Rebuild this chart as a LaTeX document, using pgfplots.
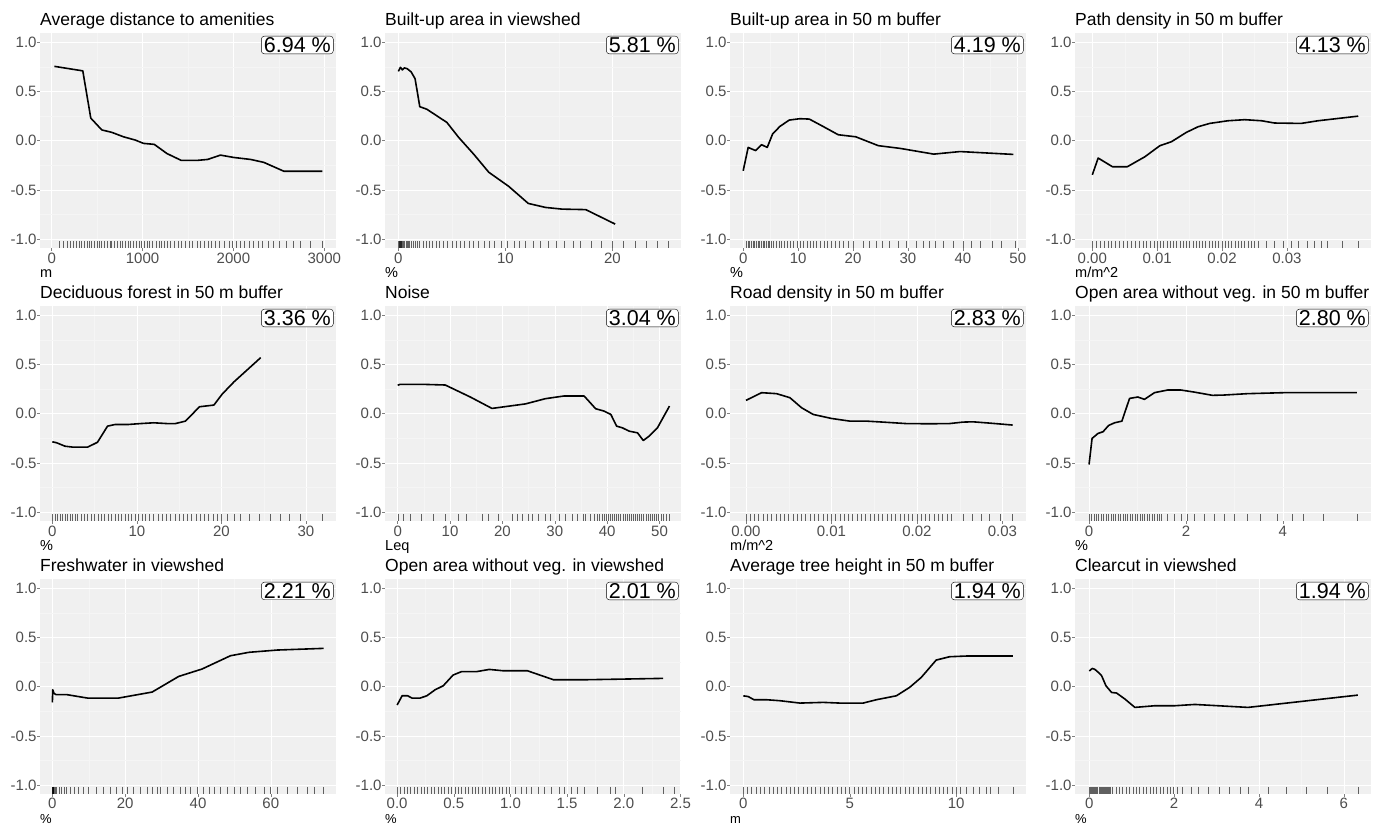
\documentclass[border=0pt]{standalone}
\usepackage{pgfplots}
\pgfplotsset{compat=1.18}
\usepackage{fontspec}
\setmainfont{Liberation Sans}
\definecolor{panelbg}{HTML}{F0F0F0}
\definecolor{minorgrid}{HTML}{F5F5F5}
\definecolor{tickgray}{HTML}{4D4D4D}
\tikzset{pct/.style={draw=black, fill=white, rounded corners=3pt, anchor=north east, inner xsep=2.5pt, inner ysep=1.2pt, xshift=-2.5pt, yshift=-3pt, font=\fontsize{21.5}{25}\selectfont}}
\pgfplotsset{
 panel/.style={
  scale only axis, width=296pt, height=215pt,
  axis background/.style={fill=panelbg},
  axis line style={draw=none},
  ymin=-1.09, ymax=1.095,
  ytick={-1,-0.5,0,0.5,1},
  scaled ticks=false,
  minor x tick num=1, minor y tick num=1,
  xmajorgrids, ymajorgrids, xminorgrids, yminorgrids,
  major grid style={white, line width=0.6pt},
  minor grid style={minorgrid, line width=0.3pt},
  tick align=outside, tick pos=left,
  major tick length=2.75pt, minor tick length=0pt,
  major tick style={gray, line width=0.5pt},
  /pgf/number format/assume math mode=true,
  /pgf/number format/1000 sep={},
  ticklabel style={font=\fontsize{15}{17}\selectfont, text=tickgray},
  yticklabel style={/pgf/number format/.cd, fixed, fixed zerofill, precision=1, /tikz/.cd, anchor=east, inner sep=0pt, xshift=-0.5pt},
  xticklabel style={anchor=base, inner sep=0pt, yshift=-12.5pt},
  every axis title shift=0pt,
  title style={at={(axis description cs:0,1)}, anchor=base west, yshift=7pt, inner sep=0pt, font=\fontsize{17.5}{20}\selectfont},
  xlabel style={at={(axis description cs:0,0)}, anchor=base west, yshift=-30pt, inner sep=0pt, font=\fontsize{14.5}{16}\selectfont},
  clip=false,
 },
 lastrow/.style={xlabel style={yshift=0.5pt, font=\fontsize{13}{15}\selectfont}, xticklabel style={yshift=1pt}},
 rug/.style={only marks, mark=|, mark size=3.5pt, mark options={draw=black, draw opacity=0.6, line width=0.7pt}},
 pdp/.style={black, line width=1.6pt, line join=round},
 fix2/.style={xticklabel style={/pgf/number format/.cd, fixed, fixed zerofill, precision=2, /tikz/.cd}},
 fix1/.style={xticklabel style={/pgf/number format/.cd, fixed, fixed zerofill, precision=1, /tikz/.cd}},
}
\begin{document}
\begin{tikzpicture}
\useasboundingbox (0pt,0pt) rectangle (1389pt,824pt);
% ---------- Row 1
\begin{axis}[panel, at={(40pt,576pt)}, anchor=south west, title={Average distance to amenities}, xlabel={m},
  xmin=-129, xmax=3129, xtick={0,1000,2000,3000}]
\addplot[rug] table[row sep=\\, y expr=-1.053]{x\\85\\130\\170\\200\\240\\270\\300\\330\\360\\390\\410\\440\\470\\500\\520\\550\\580\\610\\640\\660\\690\\720\\750\\780\\810\\840\\870\\900\\930\\960\\990\\1020\\1050\\1080\\1110\\1150\\1180\\1210\\1240\\1270\\1310\\1350\\1390\\1430\\1470\\1510\\1550\\1600\\1640\\1680\\1720\\1760\\1800\\1850\\1900\\1950\\1990\\2030\\2080\\2120\\2170\\2220\\2270\\2320\\2380\\2440\\2500\\2580\\2665\\2739\\2849\\2978\\};
\addplot[pdp] coordinates {(29,0.756)(342,0.71)(430,0.23)(551,0.11)(662,0.085)(790,0.04)(919,0.007)(1011,-0.027)(1129,-0.037)(1268,-0.13)(1426,-0.2)(1599,-0.2)(1717,-0.19)(1857,-0.146)(2004,-0.17)(2188,-0.19)(2335,-0.22)(2555,-0.31)(2978,-0.31)};
\node[pct] at (rel axis cs:1,1) {6.94 \%};
\end{axis}
\begin{axis}[panel, at={(385pt,576pt)}, anchor=south west, title={Built-up area in viewshed}, xlabel={\%},
  xmin=-1.25, xmax=26.4, xtick={0,10,20}]
\addplot[rug] table[row sep=\\, y expr=-1.053]{x\\0\\0.05\\0.1\\0.15\\0.2\\0.25\\0.3\\0.4\\0.5\\0.6\\0.7\\0.8\\0.9\\1.0\\1.2\\1.4\\1.6\\1.8\\2.0\\2.3\\2.6\\2.9\\3.2\\3.5\\3.8\\4.2\\4.6\\5.0\\5.4\\5.8\\6.2\\6.6\\7.0\\7.5\\8.0\\8.5\\9.0\\9.6\\10.2\\10.8\\11.3\\11.9\\12.6\\13.3\\14.0\\14.8\\15.5\\16.3\\17.0\\18.0\\19.0\\20.0\\21.0\\22.1\\23.2\\24.2\\25.25\\};
\addplot[pdp] coordinates {(0,0.705)(0.19,0.746)(0.375,0.72)(0.56,0.74)(0.81,0.733)(1.19,0.70)(1.56,0.63)(2.0,0.346)(2.66,0.32)(4.53,0.186)(5.63,0.034)(7.03,-0.136)(8.44,-0.32)(10.31,-0.464)(12.13,-0.637)(13.75,-0.678)(15.3,-0.695)(17.5,-0.70)(20.25,-0.847)};
\node[pct] at (rel axis cs:1,1) {5.81 \%};
\end{axis}
\begin{axis}[panel, at={(730pt,576pt)}, anchor=south west, title={Built-up area in 50 m buffer}, xlabel={\%},
  xmin=-2.4, xmax=51.5, xtick={0,10,20,30,40,50}]
\addplot[rug] table[row sep=\\, y expr=-1.053]{x\\0.6\\0.9\\1.2\\1.5\\1.8\\2.1\\2.4\\2.7\\3.0\\3.3\\3.6\\3.9\\4.2\\4.5\\4.8\\5.1\\5.5\\6.0\\6.5\\7.0\\7.5\\8.0\\8.6\\9.2\\9.8\\10.4\\11.0\\11.6\\12.2\\12.8\\13.4\\14.0\\14.7\\15.4\\16.1\\16.8\\17.5\\18.3\\19.1\\20.0\\21.9\\23.0\\24.3\\25.4\\26.7\\28.3\\29.8\\31.6\\32.8\\33.9\\34.9\\36.5\\38.3\\40.1\\41.6\\43.2\\45.3\\47.1\\49.5\\};
\addplot[pdp] coordinates {(0,-0.305)(0.91,-0.068)(2.25,-0.10)(3.34,-0.04)(4.38,-0.068)(5.35,0.068)(6.69,0.146)(8.39,0.21)(10.33,0.224)(12.04,0.22)(14.29,0.153)(17.3,0.061)(20.5,0.04)(24.6,-0.05)(28.6,-0.078)(34.7,-0.136)(39.5,-0.11)(49.2,-0.139)};
\node[pct] at (rel axis cs:1,1) {4.19 \%};
\end{axis}
\begin{axis}[panel, fix2, at={(1075pt,576pt)}, anchor=south west, title={Path density in 50 m buffer}, xlabel={m/m\^{}2},
  xmin=-0.00267, xmax=0.04297, xtick={0,0.01,0.02,0.03}]
\addplot[rug] table[row sep=\\, y expr=-1.053]{x\\0\\0.0006\\0.0012\\0.0018\\0.0024\\0.003\\0.0036\\0.0042\\0.0048\\0.0054\\0.006\\0.0066\\0.0072\\0.0078\\0.0084\\0.009\\0.0095\\0.01\\0.0105\\0.011\\0.0115\\0.012\\0.0125\\0.013\\0.0135\\0.014\\0.0145\\0.015\\0.0155\\0.016\\0.0165\\0.017\\0.0175\\0.018\\0.0185\\0.019\\0.0195\\0.02\\0.0205\\0.021\\0.0215\\0.022\\0.0225\\0.023\\0.0235\\0.024\\0.0245\\0.025\\0.0256\\0.0268\\0.0281\\0.0294\\0.0307\\0.0317\\0.0332\\0.0343\\0.0353\\0.0363\\0.0386\\0.041\\};
\addplot[pdp] coordinates {(0,-0.346)(0.0009,-0.176)(0.0031,-0.264)(0.0054,-0.264)(0.0081,-0.163)(0.0104,-0.051)(0.0122,-0.01)(0.0145,0.085)(0.0163,0.142)(0.0181,0.176)(0.0209,0.203)(0.0235,0.214)(0.0261,0.203)(0.0281,0.18)(0.0322,0.176)(0.0348,0.203)(0.041,0.25)};
\node[pct] at (rel axis cs:1,1) {4.13 \%};
\end{axis}
% ---------- Row 2
\begin{axis}[panel, at={(40pt,303pt)}, anchor=south west, title={Deciduous forest in 50 m buffer}, xlabel={\%},
  xmin=-1.46, xmax=33.56, xtick={0,10,20,30}]
\addplot[rug] table[row sep=\\, y expr=-1.053]{x\\0\\0.3\\0.6\\0.9\\1.2\\1.5\\1.8\\2.1\\2.4\\2.7\\3.0\\3.4\\3.8\\4.2\\4.6\\5.0\\5.4\\5.8\\6.2\\6.6\\7.0\\7.4\\7.8\\8.2\\8.6\\9.0\\9.4\\9.8\\10.2\\10.6\\11.0\\11.5\\12.0\\12.5\\13.0\\13.5\\14.0\\14.5\\15.0\\15.5\\16.0\\16.5\\17.0\\17.5\\18.0\\18.5\\19.0\\19.5\\20.0\\20.7\\21.5\\22.3\\23.3\\24.5\\25.8\\27.0\\28.0\\29.4\\32.0\\};
\addplot[pdp] coordinates {(0,-0.285)(0.51,-0.295)(1.5,-0.33)(2.49,-0.34)(4.16,-0.34)(5.34,-0.29)(6.53,-0.126)(7.44,-0.109)(9.02,-0.109)(10.41,-0.10)(11.99,-0.092)(13.57,-0.10)(14.56,-0.10)(15.75,-0.075)(17.41,0.071)(19.11,0.088)(20.1,0.20)(21.49,0.324)(24.65,0.57)};
\node[pct] at (rel axis cs:1,1) {3.36 \%};
\end{axis}
\begin{axis}[panel, at={(385pt,303pt)}, anchor=south west, title={Noise}, xlabel={Leq},
  xmin=-2.43, xmax=54.1, xtick={0,10,20,30,40,50}]
\addplot[rug] table[row sep=\\, y expr=-1.053]{x\\0.13\\1.1\\2.4\\4.6\\6.8\\9.1\\11.5\\13.2\\16.1\\17.4\\19.3\\21.8\\22.8\\23.8\\24.9\\25.7\\26.9\\28.1\\29.2\\30.8\\32.1\\33.3\\34.3\\35.4\\35.9\\36.8\\37.5\\38.1\\38.5\\39\\39.4\\39.8\\40.2\\40.6\\41\\41.4\\41.8\\42.2\\42.6\\43\\43.4\\43.8\\44.2\\44.6\\45\\45.4\\45.8\\46.2\\46.6\\47\\47.4\\47.8\\48.2\\48.6\\49\\49.4\\49.8\\50.3\\50.8\\51.3\\51.8\\};
\addplot[pdp] coordinates {(0,0.289)(0.45,0.299)(4.6,0.299)(9.07,0.292)(13.86,0.17)(18.0,0.054)(24.4,0.10)(28.2,0.153)(31.7,0.18)(35.6,0.18)(37.8,0.051)(39.4,0.027)(40.7,-0.007)(41.8,-0.126)(42.9,-0.143)(44.2,-0.177)(45.8,-0.194)(46.9,-0.272)(48.0,-0.228)(49.6,-0.143)(51.9,0.078)};
\node[pct] at (rel axis cs:1,1) {3.04 \%};
\end{axis}
\begin{axis}[panel, fix2, at={(730pt,303pt)}, anchor=south west, title={Road density in 50 m buffer}, xlabel={m/m\^{}2},
  xmin=-0.00187, xmax=0.03276, xtick={0,0.01,0.02,0.03}]
\addplot[rug] table[row sep=\\, y expr=-1.053]{x\\0\\0.0005\\0.001\\0.0015\\0.002\\0.0025\\0.003\\0.0035\\0.004\\0.0045\\0.005\\0.0055\\0.006\\0.0065\\0.007\\0.0075\\0.008\\0.0085\\0.009\\0.0095\\0.01\\0.0105\\0.011\\0.0115\\0.012\\0.0125\\0.013\\0.0135\\0.014\\0.0145\\0.015\\0.0155\\0.016\\0.0165\\0.017\\0.0175\\0.018\\0.0185\\0.019\\0.0195\\0.02\\0.0205\\0.021\\0.0215\\0.022\\0.0225\\0.023\\0.0235\\0.024\\0.0254\\0.0265\\0.0275\\0.0285\\0.0297\\0.0312\\};
\addplot[pdp] coordinates {(0,0.136)(0.00183,0.214)(0.00358,0.204)(0.00514,0.163)(0.0065,0.061)(0.00786,-0.007)(0.0100,-0.048)(0.01214,-0.075)(0.01409,-0.075)(0.01603,-0.085)(0.01875,-0.10)(0.02148,-0.102)(0.02381,-0.10)(0.02537,-0.085)(0.02654,-0.082)(0.02848,-0.095)(0.0312,-0.115)};
\node[pct] at (rel axis cs:1,1) {2.83 \%};
\end{axis}
\begin{axis}[panel, at={(1075pt,303pt)}, anchor=south west, title={Open area without veg. in 50 m buffer}, xlabel={\%},
  xmin=-0.29, xmax=5.82, xtick={0,2,4}]
\addplot[rug] table[row sep=\\, y expr=-1.053]{x\\0\\0.05\\0.1\\0.15\\0.2\\0.25\\0.3\\0.35\\0.4\\0.45\\0.5\\0.55\\0.6\\0.65\\0.7\\0.75\\0.8\\0.85\\0.9\\0.95\\1.0\\1.05\\1.1\\1.15\\1.2\\1.25\\1.3\\1.35\\1.4\\1.45\\1.5\\1.62\\1.76\\1.9\\2.03\\2.17\\2.38\\2.58\\2.79\\2.99\\3.27\\3.54\\3.88\\4.19\\4.43\\4.84\\5.53\\};
\addplot[pdp] coordinates {(0,-0.516)(0.062,-0.251)(0.185,-0.20)(0.288,-0.183)(0.404,-0.119)(0.527,-0.092)(0.678,-0.075)(0.836,0.156)(1.007,0.17)(1.144,0.146)(1.349,0.214)(1.623,0.241)(1.897,0.241)(2.171,0.22)(2.548,0.187)(2.788,0.19)(3.267,0.204)(4.02,0.214)(5.53,0.214)};
\node[pct] at (rel axis cs:1,1) {2.80 \%};
\end{axis}
% ---------- Row 3
\begin{axis}[panel, lastrow, at={(40pt,30pt)}, anchor=south west, title={Freshwater in viewshed}, xlabel={\%},
  xmin=-3.4, xmax=77.9, xtick={0,20,40,60}]
\addplot[rug] table[row sep=\\, y expr=-1.053]{x\\0\\0.05\\0.1\\0.15\\0.2\\0.3\\0.4\\0.5\\0.7\\1.2\\1.9\\2.6\\3.2\\3.9\\4.9\\6.0\\7.2\\8.5\\9.9\\12.2\\14.0\\15.9\\17.7\\19.1\\20.5\\22.3\\24.2\\26.0\\27.4\\28.7\\29.7\\31.5\\33.3\\35.2\\36.6\\37.9\\39.8\\41.6\\43.0\\44.4\\46.2\\48.0\\49.9\\51.7\\53.5\\55.8\\58.1\\59.9\\61.8\\64.5\\67.3\\70.0\\71.9\\74.5\\};
\addplot[pdp] coordinates {(0,-0.16)(0.09,-0.03)(0.46,-0.068)(1.0,-0.08)(3.95,-0.08)(9.64,-0.115)(18.2,-0.115)(27.4,-0.054)(34.7,0.105)(41.1,0.18)(48.9,0.315)(54.0,0.35)(61.8,0.373)(74.5,0.39)};
\node[pct] at (rel axis cs:1,1) {2.21 \%};
\end{axis}
\begin{axis}[panel, lastrow, fix1, at={(385pt,30pt)}, anchor=south west, title={Open area without veg. in viewshed}, xlabel={\%},
  xmin=-0.107, xmax=2.505, xtick={0,0.5,1,1.5,2,2.5}]
\addplot[rug] table[row sep=\\, y expr=-1.053]{x\\0\\0.03\\0.06\\0.09\\0.12\\0.15\\0.18\\0.21\\0.24\\0.27\\0.3\\0.33\\0.36\\0.39\\0.42\\0.45\\0.48\\0.51\\0.54\\0.57\\0.6\\0.63\\0.66\\0.69\\0.72\\0.75\\0.78\\0.81\\0.84\\0.87\\0.9\\0.93\\0.96\\0.99\\1.041\\1.099\\1.142\\1.186\\1.244\\1.302\\1.36\\1.433\\1.477\\1.535\\1.593\\1.651\\1.767\\1.883\\1.927\\2.16\\2.349\\2.45\\};
\addplot[pdp] coordinates {(0,-0.186)(0.044,-0.092)(0.093,-0.092)(0.131,-0.115)(0.203,-0.115)(0.262,-0.092)(0.335,-0.031)(0.407,0.01)(0.494,0.119)(0.567,0.153)(0.698,0.153)(0.813,0.176)(0.93,0.163)(1.148,0.163)(1.38,0.071)(1.656,0.071)(2.005,0.078)(2.348,0.085)};
\node[pct] at (rel axis cs:1,1) {2.01 \%};
\end{axis}
\begin{axis}[panel, lastrow, at={(730pt,30pt)}, anchor=south west, title={Average tree height in 50 m buffer}, xlabel={m},
  xmin=-0.625, xmax=13.28, xtick={0,5,10}]
\addplot[rug] table[row sep=\\, y expr=-1.053]{x\\0\\0.2\\0.4\\0.6\\0.8\\1.0\\1.2\\1.4\\1.6\\1.8\\2.0\\2.2\\2.4\\2.6\\2.8\\3.0\\3.2\\3.4\\3.6\\3.8\\4.0\\4.2\\4.4\\4.6\\4.8\\5.0\\5.2\\5.4\\5.6\\5.8\\6.0\\6.2\\6.4\\6.6\\6.8\\7.0\\7.2\\7.4\\7.6\\7.8\\8.0\\8.2\\8.4\\8.6\\8.8\\9.0\\9.2\\9.4\\9.6\\9.8\\10.0\\10.2\\10.5\\10.8\\11.1\\11.4\\11.6\\12.0\\12.7\\};
\addplot[pdp] coordinates {(0,-0.092)(0.234,-0.10)(0.5,-0.132)(1.09,-0.132)(1.72,-0.142)(2.66,-0.166)(3.75,-0.159)(4.53,-0.166)(5.63,-0.166)(6.25,-0.132)(7.19,-0.092)(7.81,-0.007)(8.36,0.095)(9.06,0.271)(9.69,0.305)(10.47,0.312)(12.66,0.312)};
\node[pct] at (rel axis cs:1,1) {1.94 \%};
\end{axis}
\begin{axis}[panel, lastrow, at={(1075pt,30pt)}, anchor=south west, title={Clearcut in viewshed}, xlabel={\%},
  xmin=-0.337, xmax=6.64, xtick={0,2,4,6}]
\addplot[rug] table[row sep=\\, y expr=-1.053]{x\\0\\0.025\\0.05\\0.075\\0.1\\0.125\\0.15\\0.175\\0.2\\0.225\\0.25\\0.275\\0.3\\0.325\\0.35\\0.375\\0.4\\0.425\\0.45\\0.475\\0.5\\0.55\\0.63\\0.71\\0.79\\0.87\\0.95\\1.03\\1.11\\1.19\\1.27\\1.35\\1.43\\1.51\\1.59\\1.67\\1.75\\1.83\\1.91\\1.99\\2.07\\2.2\\2.41\\2.56\\2.80\\3.07\\3.31\\3.55\\3.74\\4.21\\4.64\\5.11\\5.62\\6.33\\};
\addplot[pdp] coordinates {(0,0.16)(0.07,0.186)(0.133,0.176)(0.212,0.146)(0.29,0.112)(0.392,0.01)(0.525,-0.058)(0.643,-0.064)(0.839,-0.125)(1.075,-0.21)(1.545,-0.193)(2.016,-0.193)(2.486,-0.18)(3.035,-0.193)(3.741,-0.21)(6.33,-0.085)};
\node[pct] at (rel axis cs:1,1) {1.94 \%};
\end{axis}
\end{tikzpicture}
\end{document}
